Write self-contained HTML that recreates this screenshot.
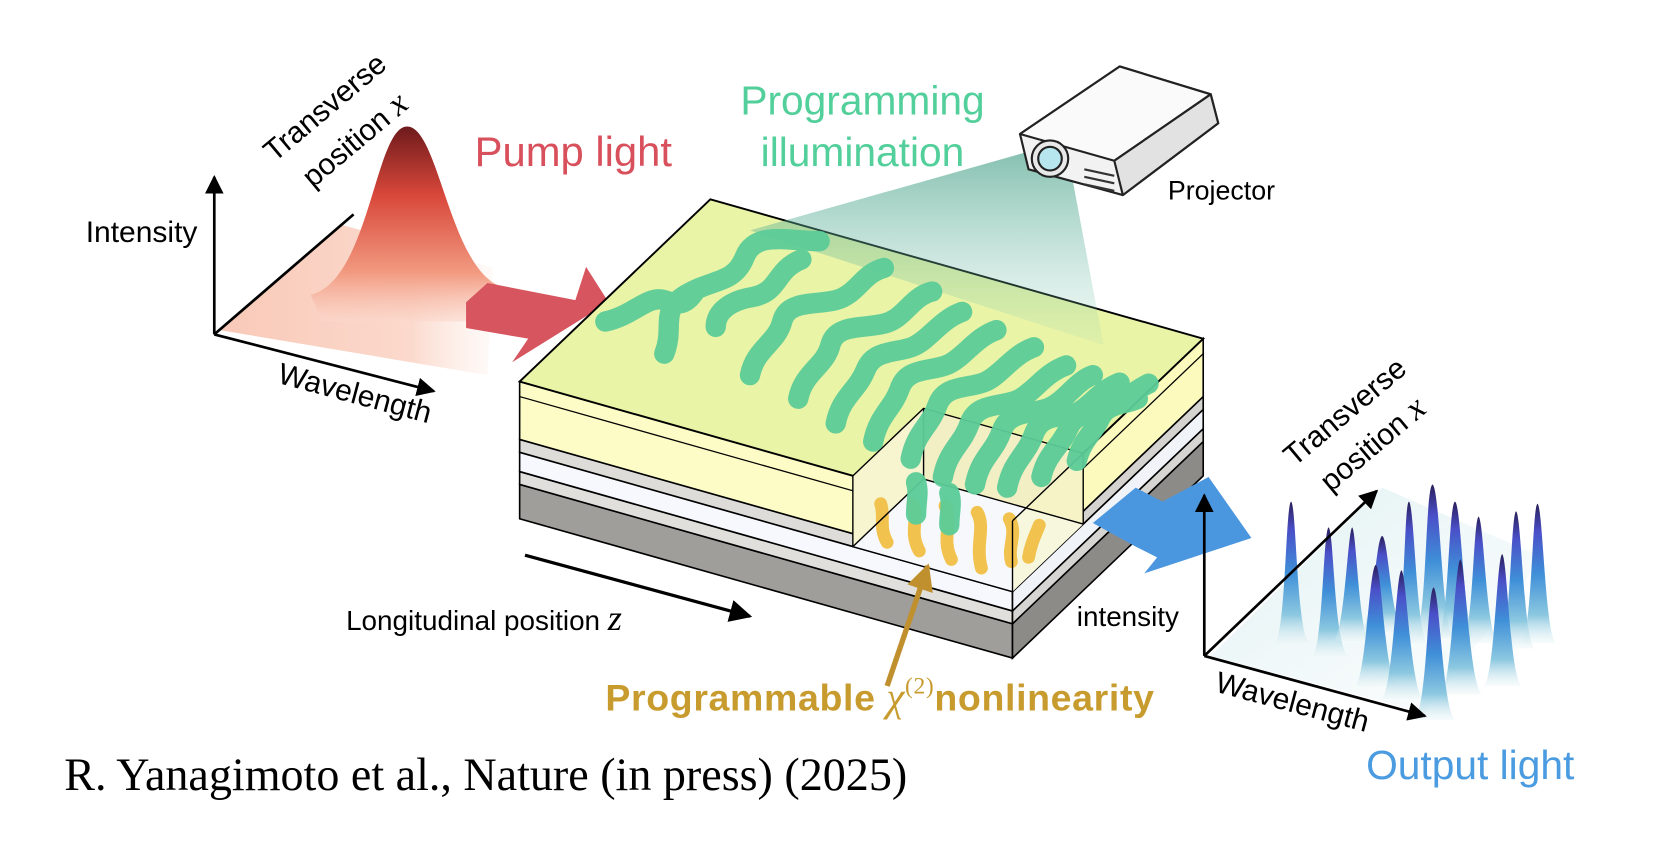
<!DOCTYPE html>
<html><head><meta charset="utf-8"><style>
html,body{margin:0;padding:0;background:#fff;}
svg{display:block;}
text{font-family:"Liberation Sans",Arial,sans-serif;}
</style></head><body>
<svg width="1680" height="866" viewBox="0 0 1568 808" preserveAspectRatio="none" xmlns="http://www.w3.org/2000/svg">
<defs>
<linearGradient id="redpk" x1="0" y1="0" x2="0" y2="1">
<stop offset="0" stop-color="#6e1a1c"/><stop offset="0.35" stop-color="#d8473a"/><stop offset="0.75" stop-color="#f29a80"/><stop offset="1" stop-color="#fbd8cc" stop-opacity="0.6"/></linearGradient>
<linearGradient id="pinkbase" x1="0" y1="0" x2="1" y2="0">
<stop offset="0" stop-color="#f9c9b8"/><stop offset="0.7" stop-color="#fbd9cc"/><stop offset="1" stop-color="#fdeee8" stop-opacity="0.3"/></linearGradient>
<linearGradient id="beam" x1="0" y1="0" x2="0" y2="1">
<stop offset="0" stop-color="#3f9c82" stop-opacity="0.85"/><stop offset="1" stop-color="#8fd0bc" stop-opacity="0.15"/></linearGradient>
<linearGradient id="bpk" x1="0" y1="0" x2="0" y2="1">
<stop offset="0" stop-color="#2a1f5a"/><stop offset="0.2" stop-color="#4a4fc8"/><stop offset="0.5" stop-color="#3f8fd8"/><stop offset="0.8" stop-color="#8cc8e0"/><stop offset="1" stop-color="#e4f2f4" stop-opacity="0.3"/></linearGradient>
<linearGradient id="bbase" x1="0" y1="0" x2="1" y2="1">
<stop offset="0" stop-color="#dff0f2"/><stop offset="1" stop-color="#f3f9fa" stop-opacity="0.3"/></linearGradient>
<marker id="ah" viewBox="0 0 10 10" refX="9" refY="5" markerWidth="7" markerHeight="7" orient="auto-start-reverse"><path d="M0,0 L10,5 L0,10 z" fill="#000"/></marker>
<marker id="oh" viewBox="0 0 10 10" refX="9" refY="5" markerWidth="5" markerHeight="5" orient="auto"><path d="M0,0 L10,5 L0,10 z" fill="#c0902e"/></marker>
</defs>

<polygon points="205,308 320,210 460,250 455,350" fill="url(#pinkbase)"/>
<line x1="200" y1="312" x2="200" y2="165" stroke="#000" stroke-width="2.5" marker-end="url(#ah)"/>
<line x1="200" y1="312" x2="330" y2="200" stroke="#000" stroke-width="2.5"/>
<line x1="200" y1="312" x2="405" y2="365" stroke="#000" stroke-width="2.5" marker-end="url(#ah)"/>
<path d="M290,275 C345,262 350,118 380,118 C410,118 420,255 470,268 L460,300 L300,300 Z" fill="url(#redpk)"/>
<text x="80" y="226" font-size="28">Intensity</text>
<g transform="translate(256,152) rotate(-40)"><text x="0" y="0" font-size="28">Transverse</text></g>
<g transform="translate(292,176) rotate(-40)"><text x="0" y="0" font-size="28">position <tspan font-family="Liberation Serif,serif" font-style="italic" font-size="32">x</tspan></text></g>
<g transform="translate(258,357) rotate(15)"><text x="0" y="0" font-size="28">Wavelength</text></g>

<polygon points="435,282 455,264 537,280 547,249 568,282 478,338 493,316 435,306" fill="#d6555f"/>
<text x="443" y="155" font-size="39" fill="#d8505c">Pump light</text>

<polygon points="485,452 945,582 945,614 485,484" fill="#a09e9a" stroke="#000" stroke-width="1.5"/>
<polygon points="945,582 1123,412 1123,444 945,614" fill="#8d8b88" stroke="#000" stroke-width="1.5"/>
<polygon points="485,440 945,570 945,582 485,452" fill="#e0dfdc" stroke="#000" stroke-width="1.5"/>
<polygon points="945,570 1123,400 1123,412 945,582" fill="#d6d5d2" stroke="#000" stroke-width="1.5"/>
<polygon points="485,422 945,552 945,570 485,440" fill="#f6f8fd" stroke="#000" stroke-width="1.5"/>
<polygon points="945,552 1123,382 1123,400 945,570" fill="#f0f3f8" stroke="#000" stroke-width="1.5"/>
<polygon points="485,410 945,540 945,552 485,422" fill="#dddcd8" stroke="#000" stroke-width="1.5"/>
<polygon points="945,540 1123,370 1123,382 945,552" fill="#d4d3cf" stroke="#000" stroke-width="1.5"/>
<polygon points="485,356 945,486 945,540 485,410" fill="#fefcc6" stroke="#000" stroke-width="1.5"/>
<polygon points="945,486 1123,316 1123,370 945,540" fill="#fcfabd" stroke="#000" stroke-width="1.5"/>
<line x1="485" y1="370" x2="945" y2="500" stroke="#000" stroke-width="1.2"/>
<line x1="945" y1="500" x2="1123" y2="330" stroke="#000" stroke-width="1.2"/>
<polygon points="485,356 663,186 1123,316 945,486" fill="#e9f4a6" stroke="#000" stroke-width="1.8"/>

<polygon points="796,444 945,486 1011,423 862,381" fill="#eef3a4"/>
<polygon points="796,444 945,486 945,552 796,510" fill="#fbf9d8" opacity="0.9"/>
<polygon points="862,381 1011,423 1011,489 862,447" fill="#f3efc4"/>
<polygon points="796,444 862,381 862,447 796,510" fill="#f7f5d0"/>
<polygon points="796,510 862,447 1011,489 945,552" fill="#f6f8fc"/>
<polygon points="945,486 1011,423 1011,489 945,552" fill="#f8f6c8" opacity="0.6"/>
<g stroke="#f2c24e" stroke-width="12" fill="none" stroke-linecap="round">
<path d="M822,470 c4,12 -2,22 6,36"/><path d="M852,470 c6,14 -4,26 6,44"/><path d="M882,472 c8,14 -4,30 6,50"/><path d="M912,478 c8,14 -2,30 4,52"/><path d="M942,484 c8,14 -2,26 2,40"/><path d="M970,490 c-4,10 -8,18 -10,30"/>
</g>
<g fill="none" stroke="#000" stroke-width="1.3">
<polyline points="796,444 796,510 945,552"/>
<polyline points="796,444 862,381 1011,423"/>
<polyline points="862,381 862,447 1011,489"/>
<line x1="862" y1="447" x2="796" y2="510"/>
<line x1="1011" y1="423" x2="1011" y2="489"/>
<line x1="945" y1="486" x2="1011" y2="423"/>
<line x1="945" y1="486" x2="945" y2="552"/>
</g>

<polygon points="965,140 1000,162 1030,322 700,215" fill="url(#beam)" opacity="0.75"/>

<g stroke="#5ccc98" stroke-width="19" fill="none" stroke-linecap="round" opacity="0.95">
<path d="M565,300 c25,-5 40,-25 55,-20 s20,5 30,-10"/>
<path d="M620,330 c10,-25 -5,-40 20,-55 s45,-10 55,-35 s40,-15 70,-15"/>
<path d="M668,305 c0,-15 15,-25 35,-28 c25,-5 20,-25 45,-35"/>
<path d="M700,350 c5,-25 25,-30 30,-50 s30,-15 50,-20 s25,-25 45,-30"/>
<path d="M745,372 c5,-25 25,-30 30,-50 s30,-15 50,-20 s25,-25 45,-30"/>
<path d="M780,395 c5,-25 20,-30 28,-50 s30,-15 45,-22 s25,-25 45,-32"/>
<path d="M815,412 c5,-25 18,-30 25,-50 s30,-15 45,-22 s25,-25 45,-32"/>
<path d="M850,428 c5,-25 18,-30 25,-50 s30,-15 45,-22 s25,-25 45,-32"/>
<path d="M880,445 c5,-25 18,-30 25,-50 s30,-15 45,-22 s25,-25 45,-32"/>
<path d="M910,452 c5,-25 18,-30 25,-50 s30,-15 45,-22 s25,-25 40,-30"/>
<path d="M940,455 c5,-25 18,-30 25,-50 s28,-15 40,-20 s20,-20 40,-28"/>
<path d="M972,445 c5,-22 18,-28 25,-45 s28,-15 40,-20 s20,-15 35,-22"/>
<path d="M1005,430 c5,-20 15,-25 22,-40 s25,-12 35,-18"/>
<path d="M855,480 c0,-12 3,-20 0,-30"/>
<path d="M886,490 c0,-12 3,-20 0,-30"/>
</g>

<g stroke="#222" stroke-width="2" stroke-linejoin="round">
<polygon points="952,125 1045,62 1130,88 1137,115 1048,182 960,158" fill="#f2f2f2"/>
<polygon points="952,125 1045,62 1130,88 1040,150" fill="#fafafa"/>
<polygon points="1040,150 1130,88 1137,115 1048,182" fill="#e2e2e2"/>
<circle cx="980" cy="148" r="17" fill="#e8e8e8"/>
<circle cx="980" cy="148" r="11" fill="#b8e6ee"/>
</g>
<g stroke="#333" stroke-width="2"><line x1="1012" y1="158" x2="1040" y2="164"/><line x1="1012" y1="165" x2="1040" y2="171"/><line x1="1012" y1="172" x2="1040" y2="178"/></g>
<text x="1090" y="186" font-size="25">Projector</text>
<text x="805" y="107" font-size="38" fill="#52cf9a" text-anchor="middle">Programming</text>
<text x="805" y="155" font-size="38" fill="#52cf9a" text-anchor="middle">illumination</text>

<line x1="490" y1="518" x2="700" y2="575" stroke="#000" stroke-width="3" marker-end="url(#ah)"/>
<text x="323" y="588" font-size="26">Longitudinal position <tspan font-family="Liberation Serif,serif" font-style="italic" font-size="34">z</tspan></text>

<line x1="828" y1="640" x2="866" y2="528" stroke="#c0902e" stroke-width="5" marker-end="url(#oh)"/>
<text x="565" y="663" font-size="35" fill="#c89b2e" font-weight="bold" textLength="512">Programmable<tspan font-family="Liberation Serif,serif" font-style="italic" font-weight="normal" font-size="38"> χ</tspan><tspan font-family="Liberation Serif,serif" font-weight="normal" font-size="22" dy="-16">(2)</tspan><tspan dy="16">nonlinearity</tspan></text>

<polygon points="1020,488 1060,455 1085,468 1128,445 1168,502 1068,535 1080,520 1060,510" fill="#4a96df"/>

<polygon points="1130,612 1290,455 1440,520 1330,665" fill="url(#bbase)"/>
<g fill="url(#bpk)">
<path d="M1190,600 C1200,590 1200,470 1205,468 C1210,470 1210,590 1222,600 Z"/>
<path d="M1225,612 C1235,600 1235,495 1240,492 C1245,495 1245,600 1258,612 Z"/>
<path d="M1245,598 C1255,588 1258,495 1262,492 C1266,495 1268,588 1278,598 Z"/>
<path d="M1270,590 C1282,580 1284,502 1290,500 C1296,502 1298,580 1310,590 Z"/>
<path d="M1300,600 C1312,590 1310,470 1315,468 C1320,470 1322,590 1332,600 Z"/>
<path d="M1320,595 C1332,585 1330,455 1337,452 C1344,455 1346,585 1356,595 Z"/>
<path d="M1342,595 C1352,585 1352,470 1358,468 C1364,470 1366,585 1376,595 Z"/>
<path d="M1365,600 C1375,590 1375,485 1380,482 C1385,485 1387,590 1398,600 Z"/>
<path d="M1400,605 C1410,595 1410,480 1415,477 C1420,480 1422,595 1432,605 Z"/>
<path d="M1420,600 C1430,590 1430,472 1435,470 C1440,472 1442,590 1452,600 Z"/>
<path d="M1265,640 C1275,630 1278,530 1284,527 C1290,530 1292,630 1304,640 Z"/>
<path d="M1290,652 C1300,640 1303,535 1308,532 C1313,535 1316,640 1328,652 Z"/>
<path d="M1345,648 C1355,636 1358,525 1363,522 C1368,525 1371,636 1383,648 Z"/>
<path d="M1320,672 C1332,660 1332,552 1338,548 C1344,552 1346,660 1358,672 Z"/>
<path d="M1385,640 C1395,630 1397,520 1402,517 C1407,520 1409,630 1420,640 Z"/>
</g>
<line x1="1124" y1="612" x2="1124" y2="462" stroke="#000" stroke-width="2.5" marker-end="url(#ah)"/>
<line x1="1124" y1="612" x2="1285" y2="458" stroke="#000" stroke-width="2.5" marker-end="url(#ah)"/>
<line x1="1124" y1="612" x2="1330" y2="668" stroke="#000" stroke-width="2.5" marker-end="url(#ah)"/>
<text x="1005" y="584" font-size="26">intensity</text>
<g transform="translate(1133,645) rotate(15)"><text x="0" y="0" font-size="28">Wavelength</text></g>
<g transform="translate(1208,436) rotate(-40)"><text x="0" y="0" font-size="28">Transverse</text></g>
<g transform="translate(1242,460) rotate(-40)"><text x="0" y="0" font-size="28">position <tspan font-family="Liberation Serif,serif" font-style="italic" font-size="32">x</tspan></text></g>
<text x="1275" y="727" font-size="38" fill="#4a9be0">Output light</text>

<text x="60" y="737" font-size="43" style="font-family:'Liberation Serif',serif">R. Yanagimoto et al., Nature (in press) (2025)</text>
</svg>
</body></html>
